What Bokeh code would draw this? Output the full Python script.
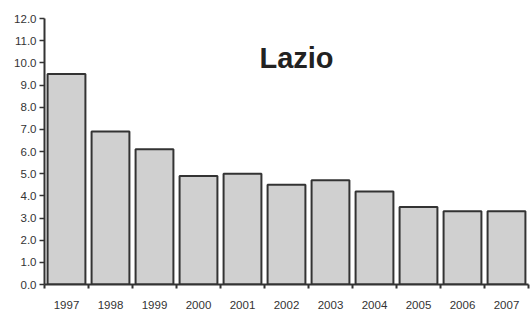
from bokeh.plotting import figure
from bokeh.models import FixedTicker, Label, ColumnDataSource
from bokeh.embed import file_html
from bokeh.resources import INLINE

years = ["1997", "1998", "1999", "2000", "2001", "2002", "2003", "2004", "2005", "2006", "2007"]
values = [9.5, 6.9, 6.1, 4.9, 5.0, 4.5, 4.7, 4.2, 3.5, 3.3, 3.3]
y_ticks = [0, 1, 2, 3, 4, 5, 6, 7, 8, 9, 10, 11, 12]
title_text = "Lazio"

centers = [i + 0.5 for i in range(len(years))]
src = ColumnDataSource(dict(x=centers, top=values))

p = figure(width=530, height=313, output_backend="svg", toolbar_location=None,
           x_range=(0, len(years)), y_range=(0, 12),
           min_border_left=44, min_border_right=2, min_border_top=18, min_border_bottom=29)
p.outline_line_color = None
p.xgrid.grid_line_color = None
p.ygrid.grid_line_color = None

p.vbar(x="x", top="top", width=0.86, bottom=0, source=src,
       fill_color="#d0d0d0", line_color="#333333", line_width=2)

# x axis
p.xaxis.ticker = FixedTicker(ticks=centers, minor_ticks=list(range(len(years) + 1)))
p.xaxis.major_label_overrides = {c: y for c, y in zip(centers, years)}
p.xaxis.major_tick_line_color = None
p.xaxis.minor_tick_line_color = "#333333"
p.xaxis.minor_tick_line_width = 2
p.xaxis.minor_tick_out = 4
p.xaxis.minor_tick_in = 0
p.xaxis.axis_line_color = "#333333"
p.xaxis.axis_line_width = 2
p.xaxis.major_label_standoff = 10
p.xaxis.major_label_text_font = "Liberation Sans"
p.xaxis.major_label_text_font_size = "11.5px"
p.xaxis.major_label_text_color = "#333333"

# y axis
p.yaxis.ticker = FixedTicker(ticks=y_ticks)
p.yaxis.major_label_overrides = {t: f"{t:.1f}" for t in y_ticks}
p.yaxis.axis_line_color = "#333333"
p.yaxis.axis_line_width = 2
p.yaxis.major_tick_line_color = "#333333"
p.yaxis.major_tick_line_width = 1.5
p.yaxis.major_tick_out = 5
p.yaxis.major_tick_in = 0
p.yaxis.minor_tick_line_color = None
p.yaxis.major_label_standoff = 3
p.yaxis.major_label_text_font = "Liberation Sans"
p.yaxis.major_label_text_font_size = "11.5px"
p.yaxis.major_label_text_color = "#333333"

p.add_layout(Label(x=252, y=211, x_units="screen", y_units="screen", text=title_text,
                   text_font="Liberation Sans", text_font_style="bold",
                   text_font_size="29px", text_color="#222222", text_align="center"))

open("out.html", "w").write(file_html(p, INLINE))
